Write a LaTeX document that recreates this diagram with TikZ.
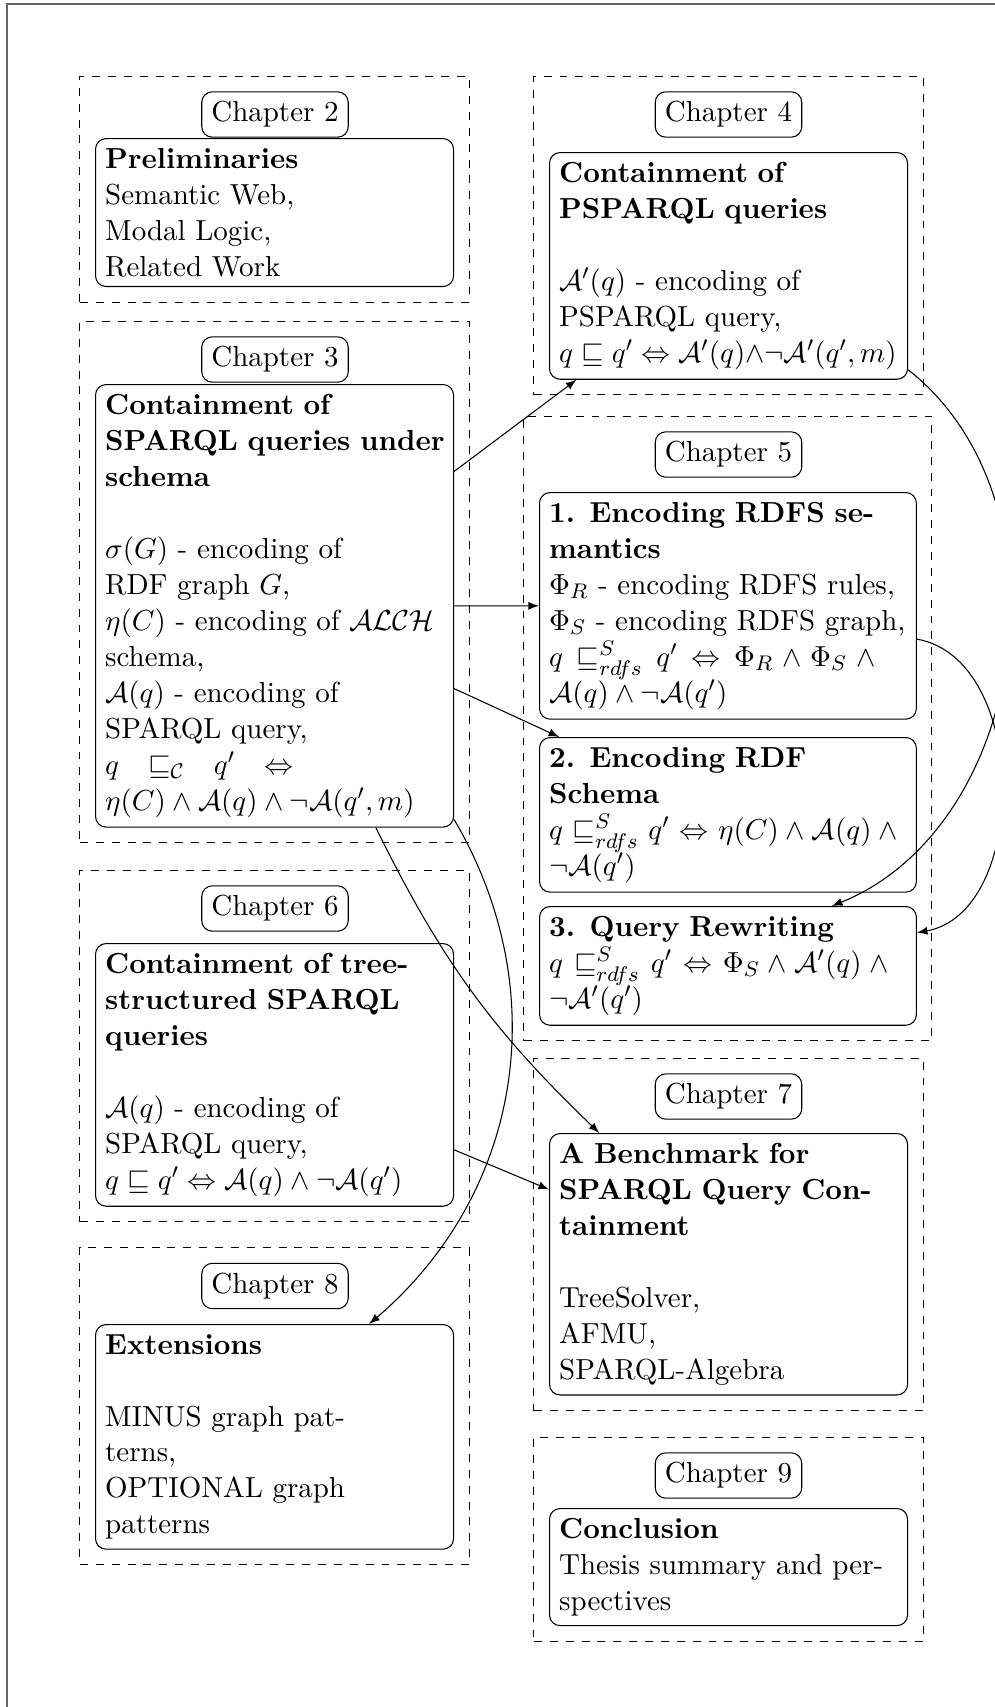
\documentclass[tikz,border=0pt]{standalone}
\usepackage{amsmath,amssymb}
\usetikzlibrary{fit}
\begin{document}
\begin{tikzpicture}[x=0.378pt,y=-0.378pt,
  font=\fontsize{10.95}{13.6}\selectfont,
  chaplabel/.style={draw, rounded corners, inner sep=3.65pt},
  topic/.style={draw, rounded corners, inner sep=3.65pt, text width=4.5cm, align=left, anchor=north west},
  widetopic/.style={topic, text width=4.75cm},
  chapframe/.style={draw, dashed, inner sep=2mm},
  link/.style={-latex},
  pageedge/.style={draw=black!60, line width=0.75pt}]
\useasboundingbox (0,0) rectangle (995,1707);
\draw[pageedge] (7,1707) -- (7,4) -- (995,4);

% Chapter 2
\node[chaplabel] (l2) at (275,114.5) {Chapter 2};
\node[topic] (p2) at (95,138) {\textbf{Preliminaries}\\ Semantic Web,\\ Modal Logic,\\ Related Work};
\node[chapframe, fit=(l2)(p2)] (f2) {};

% Chapter 3
\node[chaplabel] (l3) at (275,359.5) {Chapter 3};
\node[topic] (p3) at (95,384) {\textbf{Containment of\\ \mbox{SPARQL queries under}\\ schema}\\ ~\\
  $\sigma(G)$ - encoding of\\ RDF graph $G$,\\
  $\eta(C)$ - encoding of $\mathcal{ALCH}$\\ schema,\\
  $\mathcal{A}(q)$ - encoding of\\ SPARQL query,\\
  \mbox{$\thickmuskip=18mu q \sqsubseteq_{\mathcal{C}} q' \Leftrightarrow$}\\
  $\eta(C) \wedge \mathcal{A}(q) \wedge \neg\mathcal{A}(q', m)$};
\node[chapframe, fit=(l3)(p3)] (f3) {};

% Chapter 4
\node[chaplabel] (l4) at (728.5,114.5) {Chapter 4};
\node[topic] (p4) at (549,152) {\textbf{Containment of\\ PSPARQL queries}\\ ~\\
  $\mathcal{A}'(q)$ - encoding of\\ PSPARQL query,\\
  \mbox{$q \sqsubseteq q' \Leftrightarrow \mathcal{A}'(q){\wedge}{\neg}\mathcal{A}'(q', m)$}};
\node[chapframe, fit=(l4)(p4)] (f4) {};

% Chapter 5
\node[chaplabel] (l5) at (728.5,454.5) {Chapter 5};
\node[widetopic] (b1) at (539,492) {\textbf{1. Encoding RDFS se-\\ mantics}\\
  $\Phi_R$ - encoding RDFS rules,\\
  $\Phi_S$ - encoding RDFS graph,\\
  \mbox{$\thickmuskip=8.5mu \medmuskip=5.4mu q \sqsubseteq^{S}_{rdfs} q' \Leftrightarrow \Phi_R \wedge \Phi_S \mskip\medmuskip \wedge$}\\
  $\mathcal{A}(q) \wedge \neg\mathcal{A}(q')$};
\node[widetopic] (b2) at (539,737) {\textbf{2. Encoding RDF\\ Schema}\\
  \mbox{$\thickmuskip=6mu \medmuskip=4.3mu q \sqsubseteq^{S}_{rdfs} q' \Leftrightarrow \eta(C) \wedge \mathcal{A}(q) \mskip\medmuskip \wedge$}\\
  $\neg\mathcal{A}(q')$};
\node[widetopic] (b3) at (539,906) {\textbf{3. Query Rewriting}\\
  \mbox{$\thickmuskip=6.75mu \medmuskip=4.7mu q \sqsubseteq^{S}_{rdfs} q' \Leftrightarrow \Phi_S \wedge \mathcal{A}'(q) \mskip\medmuskip \wedge$}\\
  $\neg\mathcal{A}'(q')$};
\node[chapframe, fit=(l5)(b1)(b2)(b3)] (f5) {};

% Chapter 6
\node[chaplabel] (l6) at (275,908.5) {Chapter 6};
\node[topic] (p6) at (95,943) {\textbf{Containment of tree-\\ structured SPARQL\\ queries}\\ ~\\
  $\mathcal{A}(q)$ - encoding of\\ SPARQL query,\\
  $q \sqsubseteq q' \Leftrightarrow \mathcal{A}(q) \wedge \neg\mathcal{A}(q')$};
\node[chapframe, fit=(l6)(p6)] (f6) {};

% Chapter 7
\node[chaplabel] (l7) at (728.5,1096.5) {Chapter 7};
\node[topic] (p7) at (549,1133) {\textbf{A Benchmark for\\ SPARQL Query Con-\\ tainment}\\ ~\\
  TreeSolver,\\ AFMU,\\ SPARQL-Algebra};
\node[chapframe, fit=(l7)(p7)] (f7) {};

% Chapter 8
\node[chaplabel] (l8) at (275,1286) {Chapter 8};
\node[topic] (p8) at (95,1324) {\textbf{Extensions}\\ ~\\
  MINUS graph pat-\\ terns,\\ OPTIONAL graph\\ patterns};
\node[chapframe, fit=(l8)(p8)] (f8) {};

% Chapter 9
\node[chaplabel] (l9) at (728.5,1475.5) {Chapter 9};
\node[topic] (p9) at (549,1508) {\textbf{Conclusion}\\ Thesis summary and per-\\ spectives};
\node[chapframe, fit=(l9)(p9)] (f9) {};

% connectors
\draw[link] (p3) -- (p4);
\draw[link] (p3) -- (b1);
\draw[link] (p3) -- (b2);
\draw[link] (p3) to[bend right=10] (p7);
\draw[link] (p3) to[bend left=40] (p8);
\draw[link] (p4) to[bend left=60] (b3);
\draw[link] (b1) to[bend left=80] (b3);
\draw[link] (p6) -- (p7);
\end{tikzpicture}
\end{document}
